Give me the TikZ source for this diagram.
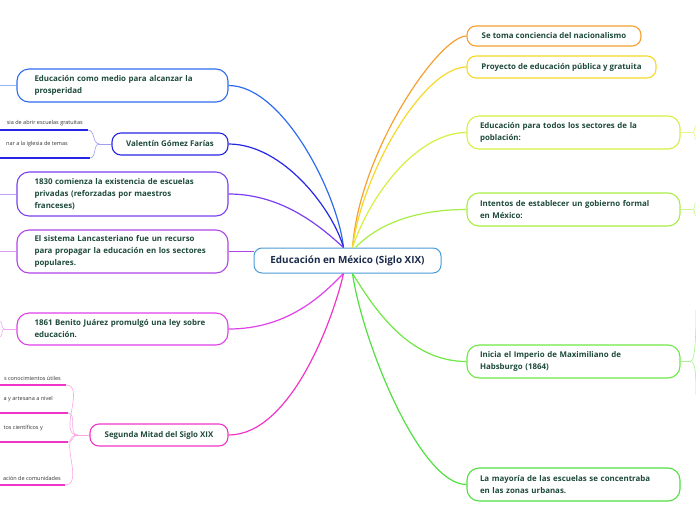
\documentclass[tikz,border=0pt]{standalone}
\usepackage{fontspec}
\setmainfont{Open Sans}
\usetikzlibrary{positioning,calc}
\definecolor{TopicText}{HTML}{1E4A3C}
\definecolor{HubText}{HTML}{1B2B4B}
\definecolor{HubBlue}{HTML}{4B9BD6}
\definecolor{BrBlue}{HTML}{2F6BF0}
\definecolor{BrNavy}{HTML}{2626E6}
\definecolor{BrViolet}{HTML}{7B3FF0}
\definecolor{BrPurple}{HTML}{B044E8}
\definecolor{BrMagenta}{HTML}{E040E8}
\definecolor{BrPink}{HTML}{F035C8}
\definecolor{BrOrange}{HTML}{F5A030}
\definecolor{BrYellow}{HTML}{F5D828}
\definecolor{BrLime}{HTML}{D4F040}
\definecolor{BrLeaf}{HTML}{A8EE40}
\definecolor{BrGreen}{HTML}{6EE845}
\definecolor{BrGrass}{HTML}{50E040}
\definecolor{LeafText}{HTML}{333333}

\begin{document}
\begin{tikzpicture}[x=1pt,y=-1pt,
    topic/.style={draw,fill=white,line width=1.1pt,rounded corners=12pt,
      text=TopicText,font=\fontsize{7.9}{12}\selectfont\bfseries,
      align=left,inner ysep=3pt},
    topicL/.style={topic,text width=176pt,inner xsep=17.5pt},
    topicR/.style={topic,text width=187pt,inner xsep=13pt},
    single/.style={draw,fill=white,line width=1.1pt,rounded corners=9pt,
      text=TopicText,font=\fontsize{7.9}{9}\selectfont\bfseries,inner sep=0pt},
    leaf/.style={text=LeafText,font=\fontsize{5.5}{7}\selectfont,inner sep=0pt},
    branch/.style={line width=1.2pt},
    twig/.style={line width=0.6pt},
    underl/.style={line width=1.6pt}]
  \useasboundingbox (0,0) rectangle (696,520);

  % central topic
  \node[draw=HubBlue,fill=white,line width=1pt,rounded corners=8pt,
    minimum width=187pt,minimum height=25pt,inner sep=0pt,text=HubText,
    font=\fontsize{9.9}{11}\selectfont\bfseries] (hub) at (347.5,260.5)
    {Educación en México (Siglo XIX)};
  \coordinate (hubNW) at ([xshift=-4pt]hub.north);
  \coordinate (hubNE) at ([xshift=5pt]hub.north);
  \coordinate (hubSW) at ([xshift=-4pt]hub.south);
  \coordinate (hubSE) at ([xshift=5pt]hub.south);

  % left topics
  \node[topicL,draw=BrBlue,minimum height=33pt] (prosp) at (122.5,85.5)
    {Educación como medio para alcanzar la\\prosperidad};
  \node[single,draw=BrNavy,minimum width=116pt,minimum height=22pt] (farias) at (170,144)
    {Valentín Gómez Farías};
  \node[topicL,draw=BrViolet,minimum height=44pt] (privadas) at (122.5,194)
    {1830 comienza la existencia de escuelas\\privadas (reforzadas por maestros\\franceses)};
  \node[topicL,draw=BrPurple,minimum height=43pt] (lancaster) at (122.5,251.5)
    {El sistema Lancasteriano fue un recurso\\para propagar la educación en los sectores\\populares.};
  \node[topicL,draw=BrMagenta,minimum height=32pt] (juarez) at (122.5,329)
    {1861 Benito Juárez promulgó una ley sobre\\educación.};
  \node[single,draw=BrPink,minimum width=138pt,minimum height=22pt] (segunda) at (159,435)
    {Segunda Mitad del Siglo XIX};

  % right topics
  \node[single,draw=BrOrange,minimum width=174pt,minimum height=20pt] (nacion) at (554,36)
    {Se toma conciencia del nacionalismo};
  \node[single,draw=BrYellow,minimum width=189pt,minimum height=22pt] (proyecto) at (561.5,67)
    {Proyecto de educación pública y gratuita};
  \node[topicR,draw=BrLime,minimum height=33pt] (todos) at (573.5,132.5)
    {Educación para todos los sectores de la\\población:};
  \node[topicR,draw=BrLeaf,minimum height=33pt] (gobierno) at (573.5,209.5)
    {Intentos de establecer un gobierno formal\\en México:};
  \node[topicR,draw=BrGreen,minimum height=33pt] (imperio) at (573.5,361.5)
    {Inicia el Imperio de Maximiliano de\\Habsburgo (1864)};
  \node[topicR,draw=BrGrass,minimum height=33pt] (urbanas) at (573.5,484.5)
    {La mayoría de las escuelas se concentraba\\en las zonas urbanas.};

  % branches to the central topic
  \draw[branch,BrBlue] (prosp.east) .. controls +(55,0) and (338,195) .. (hubNW);
  \draw[branch,BrNavy] (farias.east) .. controls +(55,0) and (333,210) .. (hubNW);
  \draw[branch,BrViolet] (privadas.east) .. controls +(55,0) and (322,228) .. (hubNW);
  \draw[branch,BrPurple] (lancaster.east) -- (lancaster.east -| hub.west);
  \draw[branch,BrMagenta] (juarez.east) .. controls +(62,0) and (325,292) .. (hubSW);
  \draw[branch,BrPink] (segunda.east) .. controls +(62,0) and (333,320) .. (hubSW);
  \draw[branch,BrOrange] (nacion.west) .. controls +(-27,0) and (360,150) .. (hubNE);
  \draw[branch,BrYellow] (proyecto.west) .. controls +(-42,0) and (363,170) .. (hubNE);
  \draw[branch,BrLime] (todos.west) .. controls +(-47,0) and (372,190) .. (hubNE);
  \draw[branch,BrLeaf] (gobierno.west) .. controls +(-47,0) and (380,222) .. ([xshift=8pt]hub.north);
  \draw[branch,BrGreen] (imperio.west) .. controls +(-57,0) and (375,310) .. (hubSE);
  \draw[branch,BrGrass] (urbanas.west) .. controls +(-47,0) and (362,340) .. (hubSE);

  % stubs running off the page
  \draw[twig,BrBlue!50] (prosp.west) -- ++(-17,0);
  \draw[twig,BrViolet!50] (privadas.west) -- ++(-17,0);
  \draw[twig,BrPurple!50] (lancaster.west) -- ++(-17,0);
  \draw[twig,BrMagenta!45] (juarez.west) -- ++(-12,0) coordinate (juarezFork);
  \draw[twig,BrMagenta!45] (juarezFork) to[out=180,in=0] ++(-5,-8);
  \draw[twig,BrMagenta!45] (juarezFork) to[out=180,in=0] ++(-5,8);
  \draw[twig,BrLime!60] (todos.east) -- ++(12,0) coordinate (todosFork);
  \draw[twig,BrLime!60] (todosFork) to[out=0,in=180] ++(4,-7);
  \draw[twig,BrLime!60] (todosFork) to[out=0,in=180] ++(4,7);
  \draw[twig,BrLeaf!60] (gobierno.east) -- ++(12,0) coordinate (gobFork);
  \draw[twig,BrLeaf!60] (gobFork) to[out=0,in=180] ++(4,-7);
  \draw[twig,BrLeaf!60] (gobFork) to[out=0,in=180] ++(4,7);
  \draw[twig,BrGreen!60] (imperio.east) -- ++(10,0) coordinate (impFork);
  \draw[twig,BrGreen!60] (impFork) .. controls +(5,0) and +(0,20) .. (696,310);
  \draw[twig,BrGreen!60] (impFork) .. controls +(5,0) and +(0,-20) .. (696,395);

  % Valentin Gomez Farias leaves
  \node[leaf,anchor=base east] (farA) at (83,124.5) {sia de abrir escuelas gratuitas};
  \node[leaf,anchor=base east] (farB) at (68,145) {nar a la iglesia de temas};
  \draw[underl,BrNavy] (0,130) -- (88,130) coordinate (farAend);
  \draw[underl,BrNavy] (0,158) -- (90,158) coordinate (farBend);
  \draw[twig,BrNavy!45] (farias.west) -- ++(-12,0) coordinate (farFork);
  \draw[twig,BrNavy!45] (farFork) to[out=180,in=0] (farAend);
  \draw[twig,BrNavy!45] (farFork) to[out=180,in=0] (farBend);

  % Segunda Mitad leaves
  \node[leaf,anchor=base east] (segA) at (61,380) {s conocimientos útiles};
  \node[leaf,anchor=base east] (segB) at (53,400) {a y artesana a nivel};
  \node[leaf,anchor=base east] (segC) at (43,429) {tos científicos y};
  \node[leaf,anchor=base east] (segD) at (61,480) {ación de comunidades};
  \draw[underl,BrPink] (0,385) -- (66,385) coordinate (segAend);
  \draw[underl,BrPink] (0,413) -- (68,413) coordinate (segBend);
  \draw[underl,BrPink] (0,442) -- (68,442) coordinate (segCend);
  \draw[underl,BrPink] (0,485) -- (65,485) coordinate (segDend);
  \draw[twig,BrPink!45] (segunda.west) -- ++(-12,0) coordinate (segFork);
  \foreach \leafend in {segAend,segBend,segCend,segDend}
    \draw[twig,BrPink!45] (segFork) to[out=180,in=0] (\leafend);
\end{tikzpicture}
\end{document}
